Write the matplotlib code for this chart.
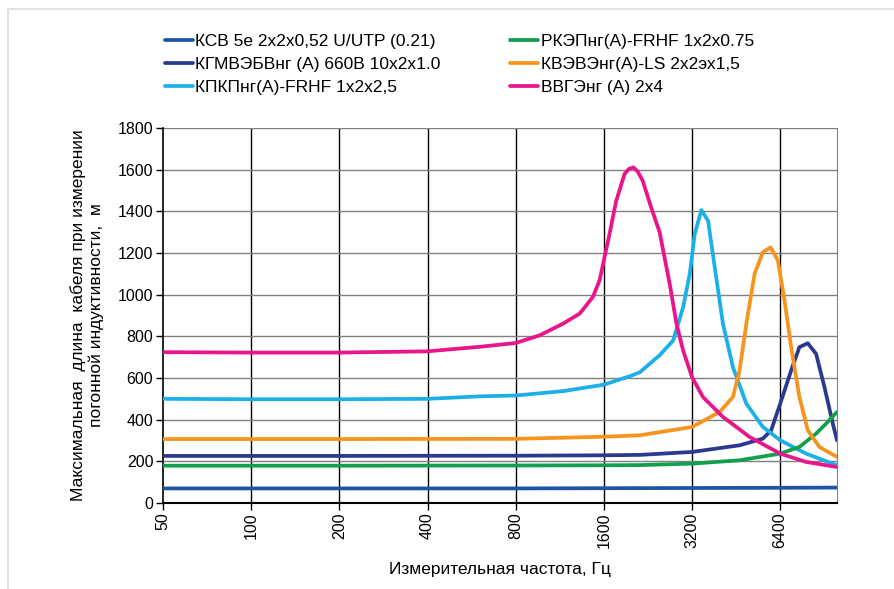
import numpy as np
import matplotlib.pyplot as plt
from matplotlib.patches import Rectangle

plt.rcParams['font.family'] = ['Liberation Sans', 'DejaVu Sans']

# data: frequency (Hz) and max cable length (m)
f_ksb = [50, 100, 200, 400, 800, 1600, 3200, 6400, 10000]
v_ksb = [70, 70, 70, 70, 70, 71, 72, 73, 74]

f_rkep = [50, 200, 800, 1600, 2125, 3200, 4650, 6400, 7440, 8483, 9178, 10000]
v_rkep = [179, 179, 180, 181, 182, 189, 205, 237, 269, 333, 381, 437]

f_kgmveb = [50, 200, 800, 1600, 2125, 3200, 4650, 5585, 5960, 6400, 6973, 7440,
            7946, 8483, 9059, 9677, 10000]
v_kgmveb = [226, 226, 227, 229, 231, 245, 277, 309, 349, 477, 636, 748,
            767, 716, 557, 381, 301]

f_kveve = [50, 200, 800, 1600, 2125, 3200, 3978, 4413, 4650, 4903, 5232, 5585,
           5933, 6282, 6621, 6973, 7440, 7946, 8707, 10000]
v_kveve = [307, 307, 308, 318, 325, 365, 437, 509, 636, 860, 1100, 1204,
           1227, 1164, 972, 748, 509, 349, 269, 221]

f_kpkp = [50, 100, 200, 400, 605, 800, 1161, 1600, 1957, 2125, 2483, 2758,
          2983, 3143, 3268, 3444, 3629, 3824, 4081, 4413, 4903, 5585, 6400,
          7846, 10000]
v_kpkp = [500, 498, 498, 500, 512, 516, 537, 568, 608, 628, 710, 780,
          940, 1100, 1291, 1406, 1355, 1132, 860, 652, 477, 365, 301,
          237, 181]

f_vvge = [50, 100, 200, 400, 605, 800, 967, 1161, 1323, 1468, 1547, 1600,
          1673, 1763, 1882, 1950, 2020, 2090, 2171, 2319, 2480, 2684, 2832,
          2983, 3200, 3489, 4081, 5030, 6400, 7846, 10000]
v_vvge = [724, 722, 722, 728, 750, 768, 805, 861, 909, 989, 1069, 1165,
          1292, 1450, 1579, 1604, 1611, 1590, 1547, 1420, 1300, 1052, 860,
          732, 604, 508, 413, 317, 237, 197, 173]

names = ['КСВ 5е 2х2х0,52 U/UTP (0.21)',
         'КГМВЭБВнг (А) 660В 10х2х1.0',
         'КПКПнг(А)-FRHF 1х2х2,5',
         'РКЭПнг(А)-FRHF 1х2х0.75',
         'КВЭВЭнг(А)-LS 2х2эх1,5',
         'ВВГЭнг (А) 2х4']
freqs = [f_ksb, f_kgmveb, f_kpkp, f_rkep, f_kveve, f_vvge]
vals = [v_ksb, v_kgmveb, v_kpkp, v_rkep, v_kveve, v_vvge]
colors = ['#1d55a6', '#2b3990', '#1cb0e6', '#12a04f', '#f7941d', '#e8168a']

xticks = [50, 100, 200, 400, 800, 1600, 3200, 6400]

fig = plt.figure(figsize=(8.94, 5.89), dpi=100)
fig.patches.append(Rectangle((8 / 894, -0.1), 1.2, 1.1 - 9 / 589,
                             transform=fig.transFigure, fill=False,
                             edgecolor='#dcdcdc', lw=1.2))
ax = fig.add_axes([163 / 894, 1 - 503 / 589, (837 - 163) / 894, (503 - 128) / 589])

for f, v, c, n in zip(freqs, vals, colors, names):
    ax.plot(f, v, color=c, lw=2.7, label=n, solid_capstyle='round',
            solid_joinstyle='round', zorder=3)

ax.set_xscale('log', base=2)
ax.set_xlim(50, 10000)
ax.set_ylim(0, 1800)
ax.set_xticks(xticks)
ax.set_xticklabels([str(t) for t in xticks], rotation=90)
ax.minorticks_off()
ax.set_yticks(np.arange(0, 1801, 200))

for t in xticks[1:]:
    ax.axvline(t, color='black', lw=1.0, zorder=1)
for y in range(200, 1801, 200):
    ax.axhline(y, color='#808080', lw=1.0, zorder=1)

ax.spines['left'].set_color('black')
ax.spines['bottom'].set_color('black')
ax.spines['left'].set_linewidth(1.2)
ax.spines['bottom'].set_linewidth(1.5)
ax.spines['top'].set_visible(False)
ax.spines['right'].set_color('#808080')
ax.tick_params(axis='both', direction='out', length=5, width=1, labelsize=11.5, pad=2)

ax.set_xlabel('Измерительная частота, Гц', fontsize=12.5, labelpad=10)
ax.set_ylabel('Максимальная  длина  кабеля при измерении\nпогонной индуктивности,  м',
              fontsize=12.5, labelpad=10)

fig.legend(loc='upper left', bbox_to_anchor=(165 / 894, 1 - 34 / 589), ncol=2,
           frameon=False, fontsize=12.5, handlelength=1.6, handletextpad=0.15,
           columnspacing=4.0, labelspacing=0.45, borderpad=0, borderaxespad=0)

fig.savefig('out.png', dpi=100)
